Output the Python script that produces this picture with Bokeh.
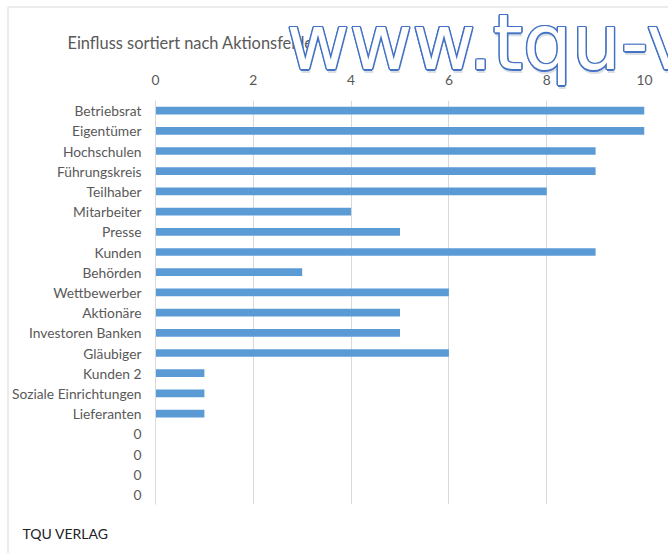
from bokeh.plotting import figure
from bokeh.models import FactorRange, Range1d, FixedTicker, ColumnDataSource
from bokeh.core.properties import value
from bokeh.embed import file_html
from bokeh.resources import INLINE

# ---- data ----
categories = ["Betriebsrat", "Eigentümer", "Hochschulen", "Führungskreis", "Teilhaber",
              "Mitarbeiter", "Presse", "Kunden", "Behörden", "Wettbewerber", "Aktionäre",
              "Investoren Banken", "Gläubiger", "Kunden 2", "Soziale Einrichtungen",
              "Lieferanten", "0", "0", "0", "0"]
values = [10, 10, 9, 9, 8, 4, 5, 9, 3, 6, 5, 5, 6, 1, 1, 1, 0, 0, 0, 0]
x_ticks = [0, 2, 4, 6, 8, 10]
title_text = "Einfluss sortiert nach Aktionsfeldern"
footer_text = "TQU VERLAG"
watermark_text = "www.tqu-verlag.de"

# make repeated category names unique (zero-width spaces keep the shown text)
factors = []
seen = {}
for c in categories:
    n = seen.get(c, 0)
    factors.append(c + "\u200b" * n)
    seen[c] = n + 1

src = ColumnDataSource(dict(cat=factors, val=values))

FONT = "Lato"
GRAY = "#595959"
W, H = 668, 553
BL, BR, BT, BB = 155, 24, 100, 49

p = figure(width=W, height=H, output_backend="svg", toolbar_location=None,
           x_range=Range1d(0, 10), y_range=FactorRange(*reversed(factors)),
           x_axis_location="above",
           min_border_left=BL, min_border_right=BR, min_border_top=BT, min_border_bottom=BB)
p.y_range.range_padding = 0
p.outline_line_color = None
p.background_fill_color = "white"
p.border_fill_color = "white"

p.hbar(y="cat", left=0, right="val", height=0.38, source=src,
       fill_color="#5b9bd5", line_color=None)

xa = p.xaxis[0]
xa.ticker = FixedTicker(ticks=x_ticks)
xa.axis_line_color = None
xa.major_tick_line_color = None
xa.minor_tick_line_color = None
xa.major_label_text_color = GRAY
xa.major_label_text_font = FONT
xa.major_label_text_font_size = "13.8px"
xa.major_label_standoff = 10

ya = p.yaxis[0]
ya.axis_line_color = "#d9d9d9"
ya.axis_line_width = 1
ya.major_tick_line_color = None
ya.minor_tick_line_color = None
ya.major_label_text_color = GRAY
ya.major_label_text_font = FONT
ya.major_label_text_font_size = "13.8px"
ya.major_label_standoff = 8

p.xgrid.ticker = FixedTicker(ticks=x_ticks)
p.xgrid.grid_line_color = "#d9d9d9"
p.ygrid.grid_line_color = None

# ---- separate overlay canvas (own root, absolutely positioned over the chart) ----
ov = figure(width=W, height=H, output_backend="svg", toolbar_location=None,
            x_range=Range1d(0, W), y_range=Range1d(H, 0),
            x_axis_type=None, y_axis_type=None,
            min_border_left=0, min_border_right=0, min_border_top=0, min_border_bottom=0)
ov.outline_line_color = None
ov.background_fill_color = None
ov.border_fill_color = None
ov.xgrid.visible = False
ov.ygrid.visible = False
ov.styles = {"position": "absolute", "left": "0px", "top": "0px"}

# chart-area border (left and top edges visible in the reference)
ov.segment(x0=[7.5, 7.5], y0=[553, 6.5], x1=[7.5, 668], y1=[6.5, 6.5],
           line_color="#d9d9d9", line_width=1)

ov.text(x=[67], y=[42], text=[title_text], text_font=value(FONT), text_font_size="16.4px",
        text_color=GRAY, text_baseline="middle", text_align="left")
ov.text(x=[22], y=[533], text=[footer_text], text_font=value(FONT), text_font_size="14px",
        text_color="#222222", text_baseline="middle", text_align="left")

wx, wy = 286, 42
wm = dict(text=[watermark_text], text_font=value("DejaVu Sans"), text_font_size="77px",
          text_baseline="middle", text_align="left")
ov.text(x=[wx + 1], y=[wy + 3.5], text_color="#b8c0cc", text_alpha=0.5, **wm)
for dx, dy in [(-1.5, 0), (1.5, 0), (0, -1.5), (0, 1.5), (-1.1, -1.1), (1.1, 1.1), (-1.1, 1.1), (1.1, -1.1)]:
    ov.text(x=[wx + dx], y=[wy + dy], text_color="#4472c4", **wm)
ov.text(x=[wx], y=[wy], text_color="white", **wm)

open("out.html", "w").write(file_html([p, ov], INLINE))
